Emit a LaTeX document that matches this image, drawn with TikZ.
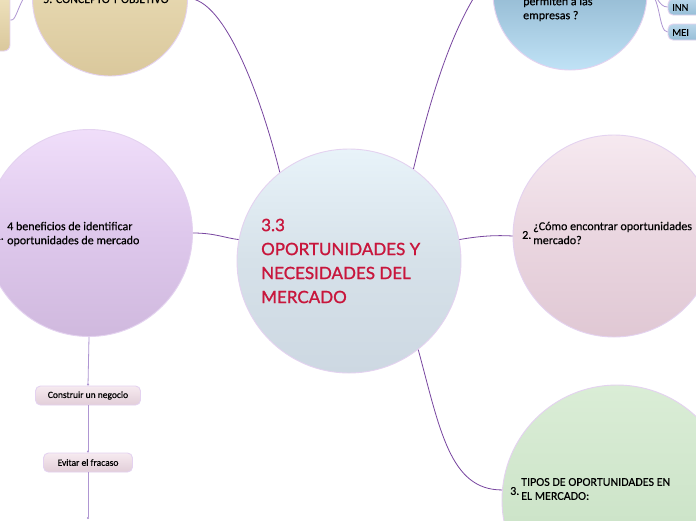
\documentclass[tikz,border=0pt]{standalone}
\usepackage{fontspec}
\setmainfont[FakeBold=0.4]{Carlito}
\newfontfamily\titlefont[FakeBold=1.2]{Lato}
\usetikzlibrary{arrows.meta}
\definecolor{titlered}{RGB}{200,22,60}
\definecolor{conn}{RGB}{120,70,160}
\definecolor{subconn}{RGB}{175,150,210}
\definecolor{bubline}{RGB}{228,210,240}
\definecolor{ctop}{RGB}{232,243,249}
\definecolor{cmid}{RGB}{214,225,233}
\definecolor{cbot}{RGB}{205,216,226}
\definecolor{ltop}{RGB}{240,222,250}
\definecolor{lmid}{RGB}{222,200,236}
\definecolor{lbot}{RGB}{208,185,222}
\definecolor{ttop}{RGB}{240,228,192}
\definecolor{tbot}{RGB}{218,200,156}
\definecolor{btop}{RGB}{170,204,226}
\definecolor{bmid}{RGB}{150,188,212}
\definecolor{bbot}{RGB}{192,226,246}
\definecolor{ptop}{RGB}{246,233,240}
\definecolor{pmid}{RGB}{234,214,224}
\definecolor{pbot}{RGB}{224,200,212}
\definecolor{gtop}{RGB}{218,237,214}
\definecolor{gbot}{RGB}{196,222,192}
\definecolor{sbtop}{RGB}{246,234,240}
\definecolor{sbbot}{RGB}{226,206,216}
\definecolor{bltop}{RGB}{185,214,234}
\definecolor{blbot}{RGB}{150,190,215}
\begin{document}
\begin{tikzpicture}[x=1pt,y=-1pt,
  bub/.style={circle, inner sep=0pt, draw=bubline, line width=0.9pt},
  link/.style={draw=conn, line width=0.8pt},
  sublink/.style={draw=subconn, line width=0.8pt},
  subbox/.style={rounded corners=5pt, draw=bubline, line width=0.9pt, top color=sbtop, bottom color=sbbot, minimum height=19pt, inner sep=0pt, font=\fontsize{9.5}{11}\selectfont},
  bluebox/.style={rounded corners=5pt, draw=bubline, line width=0.9pt, top color=bltop, bottom color=blbot, minimum height=16pt, inner sep=0pt},
  txt/.style={anchor=west, align=left, inner sep=0pt, font=\fontsize{12}{14}\selectfont},
  num/.style={anchor=west, inner sep=0pt, font=\fontsize{12}{14}\selectfont}
]
\useasboundingbox (0,0) rectangle (696,520);
\fill[white] (0,0) rectangle (696,520);

% bubbles
\node[bub, minimum size=224pt, top color=ctop, bottom color=cbot, middle color=cmid] (c) at (349,261) {};
\node[bub, minimum size=207pt, top color=ltop, bottom color=lbot, middle color=lmid] (l) at (89,233) {};
\node[bub, minimum size=155pt, top color=ttop, bottom color=tbot] (t) at (110,-1.5) {};
\node[bub, minimum size=154pt, top color=btop, bottom color=bbot, middle color=bmid] (b) at (570,-7) {};
\node[bub, minimum size=202pt, top color=ptop, bottom color=pbot, middle color=pmid] (p) at (614,236) {};
\node[bub, minimum size=230pt, top color=gtop, bottom color=gbot] (g) at (617,500) {};

% small boxes
\node[rounded corners=6pt, draw=bubline, line width=0.9pt, top color=ttop, bottom color=tbot, minimum width=40pt, minimum height=62pt, inner sep=0pt] (tb) at (-10,20) {};
\node[bluebox, minimum width=44pt] (bi) at (690,7) {};
\node[bluebox, minimum width=44pt] (bm) at (690,32) {};
\node[subbox, minimum width=105pt] (cons) at (88,395.5) {Construir un negocio};
\node[subbox, minimum width=89pt] (ev) at (88,462.5) {Evitar el fracaso};
\coordinate (lend) at (88,519);

% connectors
\draw[link] (t.east) .. controls (225,-2) and (262,100) .. (c.128.5);
\draw[link] (c.55) .. controls (430,100) and (455,10) .. (b.160);
\draw[link] (l.east) .. controls (215,233) and (225,238) .. (c.169);
\draw[link] (c.11.6) .. controls (480,236) and (495,235) .. (p.west);
\draw[link] (c.-52) .. controls (440,430) and (450,490) .. (g.175);
\draw[sublink] (tb.east) .. controls (17,22) and (17,2) .. (t.170);
\draw[sublink] (b.east) .. controls (658,-7) and (658,7) .. (bi.west);
\draw[sublink] (b.east) .. controls (661,-7) and (658,32) .. (bm.west);
\draw[sublink, -{Circle[length=2pt,fill=conn]}] (l.south) -- (cons.north);
\draw[sublink, -{Circle[length=2pt,fill=conn]}] (cons.south) -- (ev.north);
\draw[sublink, -{Circle[length=2pt,fill=conn]}] (ev.south) -- (lend);

% texts
\node[anchor=west, align=left, inner sep=0pt, text=titlered, font=\titlefont\fontsize{17}{24}\selectfont] (title) at (261,261) {3.3\\OPORTUNIDADES Y\\NECESIDADES DEL\\MERCADO};
\node[txt] (lt) at (7,234) {4 beneficios de identificar\\oportunidades de mercado};
\node[anchor=east, inner sep=0pt, font=\fontsize{12}{14}\selectfont] (ln) at (4,236) {1.};
\node[num] (pn) at (522,235) {2.};
\node[txt] (pt) at (533,233) {¿Cómo encontrar oportunidades\\mercado?};
\node[num] (gn) at (510,491) {3.};
\node[txt] (gt) at (521,489) {TIPOS DE OPORTUNIDADES EN\\EL MERCADO:};
\node[txt] (bt) at (523,9) {permiten a las\\empresas ?};
\node[anchor=base west, inner sep=0pt, font=\fontsize{12}{14}\selectfont] (tt) at (43,3) {5. CONCEPTO Y OBJETIVO};
\node[anchor=west, inner sep=0pt, font=\fontsize{10.5}{12}\selectfont] (bit) at (672,7.5) {INN};
\node[anchor=west, inner sep=0pt, font=\fontsize{10.5}{12}\selectfont] (bmt) at (672,32.5) {MEI};
\end{tikzpicture}
\end{document}
